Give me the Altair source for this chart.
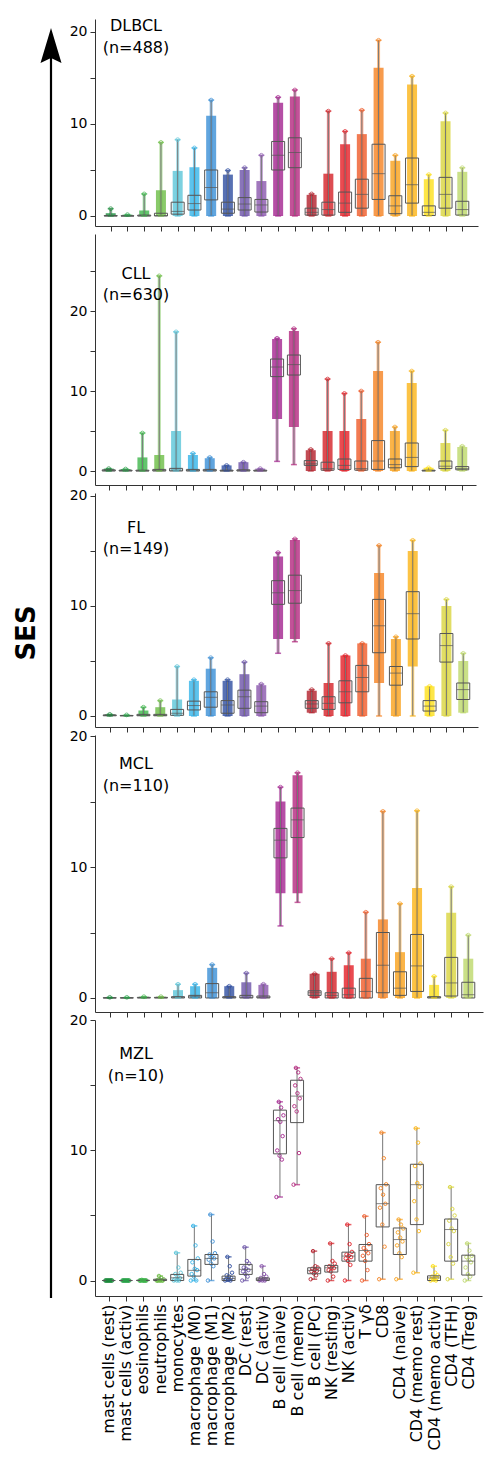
import json
import altair as alt
import pandas as pd

CELLS = ["mast cells (rest)", "mast cells (activ)", "eosinophils", "neutrophils", "monocytes",
         "macrophage (M0)", "macrophage (M1)", "macrophage (M2)", "DC (rest)", "DC (activ)",
         "B cell (naive)", "B cell (memo)", "B cell (PC)", "NK (resting)", "NK (activ)",
         "T γδ", "CD8", "CD4 (naive)", "CD4 (memo rest)", "CD4 (memo activ)", "CD4 (TFH)", "CD4 (Treg)"]
COLORS = ["#1b8c3c", "#2aa44a", "#3db54a", "#6cbd45", "#5bc5d8", "#35b4e8", "#3a8ed6", "#2e4da0",
          "#6b52a8", "#8a56ac", "#a3238f", "#b3277e", "#b31f2b", "#d42027", "#e31e26", "#ef5a28",
          "#f58220", "#f9a11b", "#fbb416", "#fde01a", "#d9d53f", "#bdd86a"]

# ---- DLBCL (n=488)
DLBCL_LO = [0] * 22
DLBCL_Q1 = [0, 0, 0, 0, 0.2, 0.65, 1.75, 0.3, 0.65, 0.43, 5.0, 5.25, 0.1, 0.1, 0.4, 0.85, 1.8, 0.25, 1.4, 0.05, 0.85, 0.1]
DLBCL_MED = [0, 0, 0.02, 0.05, 0.5, 1.35, 3.1, 0.75, 1.3, 1.2, 6.6, 6.9, 0.4, 0.7, 1.4, 2.35, 4.6, 1.1, 3.4, 0.4, 2.35, 0.7]
DLBCL_Q3 = [0.05, 0.02, 0.1, 0.3, 1.5, 2.25, 5.0, 1.5, 2.0, 1.8, 8.1, 8.5, 0.85, 1.5, 2.6, 4.0, 7.8, 2.2, 6.3, 1.1, 4.2, 1.6]
DLBCL_HI = [0.8, 0.15, 2.4, 8.0, 8.3, 7.4, 12.6, 4.95, 5.25, 6.6, 12.9, 13.7, 2.4, 11.4, 9.2, 11.5, 19.1, 6.6, 15.2, 4.5, 11.2, 5.25]
DLBCL_DLO = [0] * 22
DLBCL_DHI = [0.3, 0.15, 0.6, 2.8, 4.9, 5.3, 10.9, 4.5, 5.0, 3.8, 12.3, 13.0, 2.3, 4.6, 7.8, 8.9, 16.1, 6.0, 14.3, 4.0, 10.3, 4.8]

# ---- CLL (n=630)
CLL_LO = [0, 0, 0, 0, 0, 0, 0, 0, 0, 0, 1.2, 0.8, 0, 0, 0, 0, 0, 0, 0, 0, 0, 0]
CLL_Q1 = [0, 0, 0, 0, 0, 0, 0, 0, 0, 0, 11.8, 12.0, 0.7, 0.1, 0.2, 0.1, 0.2, 0.4, 0.55, 0, 0.3, 0.15]
CLL_MED = [0.05, 0.05, 0.02, 0.05, 0.1, 0.05, 0.05, 0.02, 0.05, 0.02, 13.0, 13.3, 0.9, 0.3, 0.7, 0.3, 1.25, 0.8, 1.7, 0.05, 0.6, 0.3]
CLL_Q3 = [0.15, 0.1, 0.1, 0.2, 0.33, 0.2, 0.2, 0.1, 0.15, 0.1, 14.0, 14.5, 1.3, 1.1, 1.5, 1.25, 3.8, 1.5, 3.5, 0.1, 1.25, 0.55]
CLL_HI = [0.3, 0.25, 4.75, 24.4, 17.4, 2.2, 1.7, 0.7, 1.1, 0.3, 16.6, 17.8, 2.7, 11.5, 9.7, 10.0, 16.1, 5.5, 12.5, 0.4, 5.1, 3.1]
CLL_DLO = [0, 0, 0, 0, 0, 0, 0, 0, 0, 0, 6.5, 5.5, 0, 0, 0, 0, 0, 0, 0, 0, 0, 0]
CLL_DHI = [0.3, 0.25, 1.7, 2.0, 5.0, 2.0, 1.6, 0.7, 1.1, 0.3, 16.5, 17.5, 2.6, 5.0, 5.0, 6.5, 12.5, 5.0, 11.0, 0.4, 3.5, 3.0]

# ---- FL (n=149)
FL_LO = [0, 0, 0, 0, 0, 0, 0, 0, 0, 0, 5.7, 6.75, 0.3, 0, 0, 0, 0, 0, 0, 0, 0, 0.3]
FL_Q1 = [0.02, 0.01, 0.02, 0.02, 0.06, 0.55, 0.8, 0.25, 0.7, 0.3, 10.15, 10.25, 0.7, 0.6, 1.2, 2.2, 5.75, 2.8, 7.0, 0.45, 4.9, 1.5]
FL_MED = [0.05, 0.03, 0.05, 0.05, 0.25, 0.95, 1.7, 1.0, 1.75, 0.9, 11.2, 11.4, 1.1, 1.15, 2.2, 3.5, 8.2, 3.9, 9.3, 0.9, 6.4, 2.4]
FL_Q3 = [0.1, 0.05, 0.15, 0.15, 0.6, 1.35, 2.2, 1.4, 2.35, 1.3, 12.3, 12.8, 1.4, 1.75, 3.2, 4.6, 10.6, 4.5, 11.3, 1.4, 7.5, 3.0]
FL_HI = [0.15, 0.1, 0.8, 1.4, 4.5, 3.3, 5.3, 3.3, 4.9, 2.9, 14.85, 16.1, 2.4, 6.6, 5.5, 6.6, 15.5, 7.2, 15.97, 2.7, 10.6, 5.7]
FL_DLO = [0, 0, 0, 0, 0, 0, 0, 0, 0, 0, 7.0, 7.0, 0.3, 0, 0, 0, 3.0, 0, 4.5, 0, 0, 0.3]
FL_DHI = [0.15, 0.1, 0.5, 0.8, 1.5, 3.2, 4.3, 3.2, 3.8, 2.8, 14.5, 16.0, 2.3, 3.0, 5.5, 6.6, 13.0, 7.0, 15.0, 2.7, 10.0, 5.0]

# ---- MCL (n=110)
MCL_LO = [0, 0, 0, 0, 0, 0, 0, 0, 0, 0, 5.5, 7.3, 0, 0, 0, 0, 0, 0, 0, 0, 0, 0]
MCL_Q1 = [0, 0, 0, 0, 0, 0, 0, 0, 0, 0, 10.7, 12.25, 0.2, 0, 0, 0, 0.4, 0.2, 0.5, 0, 0.15, 0]
MCL_MED = [0, 0, 0.02, 0.02, 0.05, 0.1, 0.4, 0.05, 0.05, 0.05, 12.05, 13.6, 0.4, 0.2, 0.25, 0.5, 2.5, 0.75, 2.45, 0.05, 1.15, 0.25]
MCL_Q3 = [0.02, 0.02, 0.05, 0.05, 0.1, 0.2, 1.1, 0.1, 0.2, 0.15, 12.95, 14.5, 0.55, 0.4, 0.75, 1.5, 5.0, 2.0, 4.85, 0.1, 3.1, 1.2]
MCL_HI = [0.05, 0.05, 0.1, 0.1, 1.05, 1.05, 2.55, 0.9, 1.9, 1.05, 16.1, 17.2, 1.85, 3.0, 3.45, 6.55, 14.25, 7.2, 14.3, 1.65, 8.5, 4.8]
MCL_DLO = [0, 0, 0, 0, 0, 0, 0, 0, 0, 0, 8.0, 8.0, 0, 0, 0, 0, 0, 0, 0, 0, 0, 0]
MCL_DHI = [0.05, 0.05, 0.1, 0.1, 0.6, 0.9, 2.3, 0.9, 1.2, 1.0, 15.0, 17.0, 1.85, 2.0, 2.5, 3.0, 6.0, 3.5, 8.4, 1.0, 6.5, 3.0]

# ---- MZL (n=10)
MZL_LO = [0, 0, 0, 0, 0, 0, 0, 0, 0, 0, 6.42, 7.37, 0.1, 0, 0, 0, 0.1, 0.1, 0.6, 0, 0.1, 0]
MZL_Q1 = [0, 0, 0, 0, 0, 0.34, 1.24, 0, 0.47, 0, 9.74, 12.14, 0.52, 0.65, 1.49, 1.49, 4.12, 2.0, 4.3, 0, 1.49, 0.42]
MZL_MED = [0, 0, 0, 0.02, 0.21, 0.78, 1.7, 0.15, 0.86, 0.1, 12.29, 14.18, 0.78, 0.98, 1.88, 2.31, 5.91, 3.15, 7.37, 0.2, 3.92, 1.49]
MZL_Q3 = [0, 0, 0.02, 0.1, 0.47, 1.62, 2.0, 0.34, 1.24, 0.2, 13.1, 15.4, 0.98, 1.16, 2.18, 2.77, 7.37, 4.04, 8.94, 0.36, 4.73, 1.95]
MZL_HI = [0, 0, 0.05, 0.35, 2.13, 4.2, 5.07, 1.82, 2.56, 1.1, 13.74, 16.35, 2.26, 2.85, 4.3, 4.94, 11.37, 4.69, 11.7, 1.1, 7.18, 2.85]
MZL_POINTS = [
    [0, 0, 0, 0, 0, 0, 0, 0, 0, 0],
    [0, 0, 0, 0, 0, 0, 0, 0, 0, 0],
    [0, 0, 0, 0, 0, 0, 0, 0, 0, 0.05],
    [0, 0, 0, 0, 0, 0, 0, 0.1, 0.2, 0.35],
    [0, 0, 0, 0.1, 0.2, 0.3, 0.5, 0.6, 1.0, 2.13],
    [0, 0, 0.3, 0.5, 0.8, 0.9, 1.4, 1.7, 2.7, 4.2],
    [0, 1.1, 1.3, 1.6, 1.7, 1.8, 2.0, 2.1, 3.0, 5.07],
    [0, 0, 0.05, 0.1, 0.2, 0.3, 0.4, 0.6, 1.1, 1.82],
    [0, 0.3, 0.5, 0.7, 0.8, 0.9, 1.0, 1.3, 1.5, 2.56],
    [0, 0, 0, 0.05, 0.1, 0.1, 0.2, 0.3, 0.5, 1.1],
    [6.42, 9.3, 9.6, 10.0, 11.1, 12.2, 12.4, 12.7, 13.3, 13.74],
    [7.37, 9.8, 13.0, 13.4, 14.0, 14.4, 15.0, 15.5, 16.0, 16.35],
    [0.1, 0.4, 0.55, 0.7, 0.75, 0.8, 0.9, 1.0, 1.1, 2.26],
    [0, 0.3, 0.7, 0.8, 0.95, 1.0, 1.1, 1.3, 1.5, 2.85],
    [0, 1.2, 1.5, 1.7, 1.8, 1.9, 2.0, 2.2, 2.8, 4.3],
    [0, 0.8, 1.5, 1.9, 2.1, 2.3, 2.5, 2.8, 3.5, 4.94],
    [0.1, 2.6, 4.3, 5.6, 5.9, 6.6, 7.1, 7.4, 9.4, 11.37],
    [0.1, 1.8, 2.1, 2.7, 3.0, 3.3, 3.7, 4.0, 4.3, 4.69],
    [0.6, 3.8, 4.7, 6.1, 7.2, 7.5, 8.8, 9.0, 10.6, 11.7],
    [0, 0, 0.05, 0.1, 0.2, 0.2, 0.3, 0.4, 0.6, 1.1],
    [0.1, 1.3, 1.8, 2.8, 3.8, 4.0, 4.6, 5.0, 5.5, 7.18],
    [0, 0.3, 0.5, 1.0, 1.4, 1.6, 1.8, 1.9, 2.3, 2.85],
]

FONT = "DejaVu Sans"
BOX = "#555555"
ONE = pd.DataFrame({"a": [0]})
LABEL_EXPR = json.dumps(CELLS, ensure_ascii=False) + "[datum.value]"


def stats_frame(lo, q1, med, q3, hi, dlo, dhi):
    return pd.DataFrame({"i": list(range(22)), "cell": CELLS, "lo": lo, "q1": q1, "med": med,
                         "q3": q3, "hi": hi, "dlo": dlo, "dhi": dhi})


def panel(title, ntext, df, xdom, ydom, yvals, width, height, ty, bottom=False, points=None, extra=()):
    if bottom:
        xaxis = alt.Axis(values=list(range(22)), labelExpr=LABEL_EXPR, labelAngle=270, labelFontSize=16,
                         labelFont=FONT, labelColor="black", labelPadding=3, labelLimit=400,
                         tickSize=5, grid=False, title=None, domainColor="#333", tickColor="#333")
    else:
        xaxis = alt.Axis(values=list(range(22)), labels=False, tickSize=5, grid=False, title=None,
                         domainColor="#333", tickColor="#333")
    yaxis = alt.Axis(values=yvals, labelExpr="datum.value % 10 == 0 ? datum.label : ''",
                     labelFontSize=14, labelFont=FONT, labelColor="black", labelPadding=3,
                     tickSize=5, grid=False, title=None, domainColor="#333", tickColor="#333")
    X = alt.X("i:Q", scale=alt.Scale(domain=xdom, nice=False, zero=False), axis=xaxis)

    def Y(f):
        return alt.Y(f + ":Q", scale=alt.Scale(domain=ydom, nice=False, zero=False), axis=yaxis)

    C = alt.Color("cell:N", scale=alt.Scale(domain=CELLS, range=COLORS), legend=None)
    base = alt.Chart(df)
    layers = []
    if points is None:
        layers.append(base.mark_bar(size=3, opacity=0.55).encode(x=X, y=Y("lo"), y2="hi", color=C))
        layers.append(base.mark_bar(size=10, opacity=0.8).encode(x=X, y=Y("dlo"), y2="dhi", color=C))
    layers.append(base.mark_rule(color="#777", strokeWidth=1).encode(x=X, y=Y("lo"), y2="hi"))
    if points is not None:
        pdf = pd.DataFrame([{"i": k, "cell": CELLS[k], "j": j, "v": v}
                            for k, vals in enumerate(points) for j, v in enumerate(vals)])
        layers.append(alt.Chart(pdf).transform_calculate(
            xi="datum.i + ((datum.j * 7) % 10 - 4.5) * 0.045").mark_point(
            shape="circle", filled=False, size=12, strokeWidth=1, opacity=0.9).encode(
            x=alt.X("xi:Q", scale=alt.Scale(domain=xdom, nice=False, zero=False), axis=xaxis),
            y=Y("v"), color=C))
    else:
        layers.append(base.mark_point(shape="circle", filled=False, size=14, strokeWidth=1).encode(
            x=X, y=Y("hi"), color=C))
    layers.append(base.mark_bar(size=13, fillOpacity=0, stroke=BOX, strokeWidth=1).encode(
        x=X, y=Y("q1"), y2="q3"))
    layers.append(base.mark_tick(orient="horizontal", size=13, thickness=1, color=BOX).encode(
        x=X, y=Y("med")))
    layers.append(base.mark_tick(orient="horizontal", size=6, thickness=1.5).encode(
        x=X, y=Y("hi"), color=C))
    layers.append(base.mark_tick(orient="horizontal", size=6, thickness=1.5).encode(
        x=X, y=Y("lo"), color=C))
    layers.append(alt.Chart(ONE).mark_text(text=title, font=FONT, fontSize=16, align="center",
                                           baseline="middle", color="black").encode(
        x=alt.value(41), y=alt.value(ty)))
    layers.append(alt.Chart(ONE).mark_text(text=ntext, font=FONT, fontSize=16, align="center",
                                           baseline="middle", color="black").encode(
        x=alt.value(41), y=alt.value(ty + 21.5)))
    layers.extend(extra)
    return alt.layer(*layers).properties(width=width, height=height)


arrow = [
    alt.Chart(ONE).mark_rule(color="black", strokeWidth=2.2).encode(
        x=alt.value(-44), y=alt.value(30), y2=alt.value(1279)),
    alt.Chart(ONE).mark_point(shape="M0,-1L0.6,1L0,0.72L-0.6,1Z", filled=True, color="black",
                              size=1225, opacity=1, strokeWidth=0).encode(
        x=alt.value(-44), y=alt.value(26.5)),
    alt.Chart(ONE).mark_text(text="SES", angle=270, font=FONT, fontSize=26, fontWeight="bold",
                             align="center", baseline="middle", color="black").encode(
        x=alt.value(-68), y=alt.value(614)),
]

p1 = panel("DLBCL", "(n=488)", stats_frame(DLBCL_LO, DLBCL_Q1, DLBCL_MED, DLBCL_Q3, DLBCL_HI, DLBCL_DLO, DLBCL_DHI),
           [-0.64, 21.64], [-1.087, 21.41], [0, 5, 10, 15, 20], 383, 207, 7, extra=arrow)
p2 = panel("CLL", "(n=630)", stats_frame(CLL_LO, CLL_Q1, CLL_MED, CLL_Q3, CLL_HI, CLL_DLO, CLL_DHI),
           [-0.52, 21.52], [-1.75, 29.63], [0, 5, 10, 15, 20, 25], 381, 251, 39.7)
p3 = panel("FL", "(n=149)", stats_frame(FL_LO, FL_Q1, FL_MED, FL_Q3, FL_HI, FL_DLO, FL_DHI),
           [-0.58, 21.58], [-1.0, 20.27], [0, 5, 10, 15, 20], 383, 234, 34.7)
p4 = panel("MCL", "(n=110)", stats_frame(MCL_LO, MCL_Q1, MCL_MED, MCL_Q3, MCL_HI, MCL_DLO, MCL_DHI),
           [-0.57, 21.57], [-1.07, 20.08], [0, 5, 10, 15, 20], 388, 277, 29.3)
p5 = panel("MZL", "(n=10)", stats_frame(MZL_LO, MZL_Q1, MZL_MED, MZL_Q3, MZL_HI, MZL_LO, MZL_LO),
           [-0.51, 21.51], [-1.19, 20.03], [0, 5, 10, 15, 20], 387, 276, 34.3,
           bottom=True, points=MZL_POINTS)

chart = alt.vconcat(p1, p2, p3, p4, p5, spacing=8, bounds="flush").resolve_scale(
    x="independent", y="independent").configure_view(strokeWidth=0).properties(
    padding={"left": 6, "top": 10, "right": 5, "bottom": 5}, background="white")

chart.save("out.html", embed_options={"renderer": "svg", "actions": False})
